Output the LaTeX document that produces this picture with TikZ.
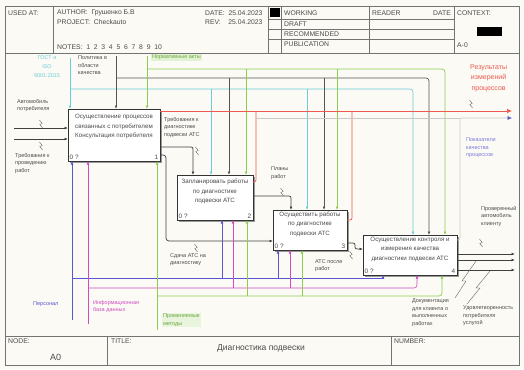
\documentclass[tikz,border=0pt]{standalone}
\usepackage{fontspec}
\setmainfont{Liberation Sans}
\usetikzlibrary{arrows.meta,shadows}
\definecolor{bg}{HTML}{FBFAF5}
\definecolor{cyc}{HTML}{6CCCD8}
\definecolor{dkc}{HTML}{555555}
\definecolor{gnc}{HTML}{8CCF50}
\definecolor{rdc}{HTML}{EE5A50}
\definecolor{blc}{HTML}{5A55D0}
\definecolor{mgc}{HTML}{D04CC0}
\definecolor{gyc}{HTML}{C9C9C9}
\definecolor{txc}{HTML}{4A4A4A}
\tikzset{
 frm/.style={draw=black!55, line width=0.6pt},
 pbox/.style={draw=black!80, line width=1pt, fill=white, inner sep=0pt, outer sep=0pt,
   drop shadow={shadow xshift=2pt, shadow yshift=-2pt, fill=black!40, opacity=1}},
 btxt/.style={font=\fontsize{6.2}{9.6}\selectfont, align=center, text=txc, inner sep=0pt},
 ntxt/.style={font=\fontsize{6.4}{7}\selectfont, text=txc, inner sep=1.5pt},
 lbl/.style={font=\fontsize{5.5}{7.4}\selectfont, align=left, text=txc, inner sep=0pt, anchor=north west},
 hdr/.style={font=\fontsize{6.8}{8}\selectfont, text=txc, inner sep=0pt, anchor=west},
 arr/.style={-{Latex[length=3.5pt,width=2.8pt]}},
 cyl/.style={draw=cyc, line width=0.6pt},
 dkl/.style={draw=dkc, line width=0.7pt},
 gnl/.style={draw=gnc, line width=0.7pt},
 rdl/.style={draw=rdc, line width=0.7pt},
 bll/.style={draw=blc, line width=0.6pt},
 mgl/.style={draw=mgc, line width=0.6pt},
 gyl/.style={draw=gyc, line width=0.6pt},
 bkl/.style={draw=black!75, line width=0.7pt},
 zig/.style={draw=black!60, line width=0.4pt},
 zg/.pic={\draw[zig] (-1.6,-4) -- (1.2,-0.6) -- (-1.2,0.6) -- (1.6,4);}
}
\begin{document}
\begin{tikzpicture}[x=1pt,y=-1pt]
\useasboundingbox (0,0) rectangle (524,369);
\fill[bg] (0,0) rectangle (524,369);

% ---------- frame ----------
\draw[frm] (5,6) rectangle (519,365);
\draw[frm] (5,53) -- (519,53);
\draw[frm] (53,6) -- (53,53);
\draw[frm] (268,6) -- (268,53);
\draw[frm] (281,6) -- (281,53);
\draw[frm] (369,6) -- (369,53);
\draw[frm] (454,6) -- (454,53);
\draw[frm] (268,19) -- (454,19);
\draw[frm] (268,29) -- (454,29);
\draw[frm] (268,39) -- (454,39);
\fill[black] (270,8) rectangle (280,17);
\fill[black] (477,27) rectangle (502,36);
\node[hdr] (hu) at (8,13) {USED AT:};
\node[hdr] (ha) at (57,13) {AUTHOR:\ \ Грушенко Б.В};
\node[hdr] (hp) at (57,22) {PROJECT:\ \ Checkauto};
\node[hdr] (hn) at (57,47) {NOTES:\ \ 1\ \ 2\ \ 3\ \ 4\ \ 5\ \ 6\ \ 7\ \ 8\ \ 9\ \ 10};
\node[hdr] (hd) at (205,13) {DATE:\ \ 25.04.2023};
\node[hdr] (hr) at (205,22) {REV:\ \ \ \ 25.04.2023};
\node[hdr] (hw) at (284,13) {WORKING};
\node[hdr] (hf) at (284,24) {DRAFT};
\node[hdr] (hc) at (284,34) {RECOMMENDED};
\node[hdr] (hb) at (284,44) {PUBLICATION};
\node[hdr] (hrd) at (372,13) {READER};
\node[hdr] (hdt) at (433,13) {DATE};
\node[hdr] (hcx) at (457,13) {CONTEXT:};
\node[hdr] (ha0) at (457,45) {A-0};

\draw[frm] (5,336) -- (519,336);
\draw[frm] (107,336) -- (107,365);
\draw[frm] (391,336) -- (391,365);
\node[hdr] (fn) at (8,341) {NODE:};
\node[hdr,font=\fontsize{9}{10}\selectfont] (fa) at (50,357) {A0};
\node[hdr] (ft) at (111,341) {TITLE:};
\node[font=\fontsize{8.5}{10}\selectfont, text=txc, inner sep=0pt] (fx) at (261,348) {Диагностика подвески};
\node[hdr] (fnb) at (394,341) {NUMBER:};

% ---------- boxes ----------
\node[pbox, minimum width=92pt, minimum height=52pt, anchor=north west] (b1) at (68,109) {};
\node[pbox, minimum width=76pt, minimum height=45pt, anchor=north west] (b2) at (177,175) {};
\node[pbox, minimum width=74pt, minimum height=40pt, anchor=north west] (b3) at (273,210) {};
\node[pbox, minimum width=94pt, minimum height=40pt, anchor=north west] (b4) at (363,235) {};

\node[btxt, anchor=north] (t1) at ([yshift=-5pt]b1.north) {Осуществление процессов\\связанных с потребителем\\Консультация потребителя};
\node[btxt, anchor=north] (t2) at ([yshift=-4pt]b2.north) {Запланировать работы\\по диагностике\\подвески АТС};
\node[btxt, anchor=north] (t3) at ([yshift=-1.5pt]b3.north) {Осуществить работы\\по диагностике\\подвески АТС};
\node[btxt, anchor=north] (t4) at ([yshift=-1.5pt]b4.north) {Осуществление контроля и\\измерения качества\\диагностики подвески АТС};
\foreach \b/\n in {b1/1,b2/2,b3/3,b4/4}{
  \node[ntxt, anchor=south west] (\b z) at (\b.south west) {0 ?};
  \node[ntxt, anchor=south east] (\b n) at (\b.south east) {\n};
}

% ---------- controls (top) ----------
\coordinate (cyS) at (70,58);
\coordinate (cyA) at (211,89); \coordinate (cyB) at (307,89); \coordinate (cyC) at (413,89);
\draw[cyl,arr] (cyS) -- (cyS |- b1.north);
\draw[cyl,arr,rounded corners=3] (cyS |- cyC) -- (cyC) -- (cyC |- b4.north);
\draw[cyl,arr] (cyA) -- (cyA |- b2.north);
\draw[cyl,arr] (cyB) -- (cyB |- b3.north);

\coordinate (dkS) at (116,56);
\coordinate (dkA) at (229,78); \coordinate (dkB) at (324,78); \coordinate (dkC) at (429,78);
\draw[dkl,arr] (dkS) -- (dkS |- b1.north);
\draw[dkl,arr,rounded corners=3] (dkS |- dkC) -- (dkC) -- (dkC |- b4.north);
\draw[dkl,arr] (dkA) -- (dkA |- b2.north);
\draw[dkl,arr] (dkB) -- (dkB |- b3.north);

\coordinate (gnS) at (147,56);
\coordinate (gnA) at (246,69); \coordinate (gnB) at (337,69); \coordinate (gnC) at (445,69);
\draw[gnl,arr] (gnS) -- (gnS |- b1.north);
\draw[gnl,arr,rounded corners=3] (gnS |- gnC) -- (gnC) -- (gnC |- b4.north);
\draw[gnl,arr] (gnA) -- (gnA |- b2.north);
\draw[gnl,arr] (gnB) -- (gnB |- b3.north);

% ---------- red / grey outputs to the right ----------
\coordinate (rdE) at (512,111);
\coordinate (rdA) at (256,182); \coordinate (rdB) at (352,220);
\draw[rdl,-{Latex[length=5pt,width=4.5pt]}] (b1.east |- rdE) -- (rdE);
\draw[rdl,rounded corners=2] (b2.east |- rdA) -- (rdA) -- (rdA |- rdE);
\draw[rdl,rounded corners=2] (b3.east |- rdB) -- (rdB) -- (rdB |- rdE);

\coordinate (gyE) at (512,118); \coordinate (gyC) at (460,118); \coordinate (gyS) at (256,118);
\draw[gyl] (gyS) -- (gyC);
\draw[gyl,-{Latex[length=4.5pt,width=4pt,color=blc]},rounded corners=2] ([yshift=-5pt]b4.north east) -| (gyC) -- (gyE);

% ---------- inputs ----------
\coordinate (in1) at (14,128); \coordinate (in2) at (14,139);
\draw[bkl,arr] (in1) -- (in1 -| b1.west);
\draw[bkl,arr] (in2) -- (in2 -| b1.west);

% box 1 -> box 2
\coordinate (o1) at (193,147);
\draw[bkl,arr,rounded corners=2] (b1.east |- o1) -- (o1) -- (o1 |- b2.north);
% box 1 -> box 3
\coordinate (o2) at (166,155); \coordinate (o2b) at (166,241);
\draw[bkl,arr,rounded corners=3] (b1.east |- o2) -- (o2) -- (o2b) -- (o2b -| b3.west);
% box 2 -> box 3
\coordinate (o3) at (291,196);
\draw[bkl,arr,rounded corners=2] (b2.east |- o3) -- (o3) -- (o3 |- b3.north);
% box 3 -> box 4
\coordinate (o4) at (355,243); \coordinate (o4b) at (355,249);
\draw[bkl,arr,rounded corners=2] (b3.east |- o4) -- (o4) -- (o4b) -- (o4b -| b4.west);
% box 4 outputs
\coordinate (e1) at (515,254); \coordinate (e2) at (515,260); \coordinate (e3) at (515,270);
\draw[bkl,arr] (b4.east |- e1) -- (e1);
\draw[bkl,arr] (b4.east |- e2) -- (e2);
\draw[bkl,arr] (b4.east |- e3) -- (e3);

% ---------- mechanisms (bottom) ----------
\coordinate (blS) at (72,320);
\coordinate (blA) at (222,278); \coordinate (blB) at (278,278); \coordinate (blC) at (383,278);
\draw[bll,arr] (blS) -- (blS |- b1.south);
\draw[bll,rounded corners=2] (blS |- blC) -- (blC);
\draw[bll,arr] (blA) -- (blA |- b2.south);
\draw[bll,arr] (blB) -- (blB |- b3.south);
\draw[bll,arr] (blC) -- (blC |- b4.south);

\coordinate (mgS) at (88,324);
\coordinate (mgA) at (233,288); \coordinate (mgB) at (290,288); \coordinate (mgC) at (417,288);
\draw[mgl,arr] (mgS) -- (mgS |- b1.south);
\draw[mgl,arr,rounded corners=3] (mgS |- mgC) -- (mgC) -- (mgC |- b4.south);
\draw[mgl,arr] (mgA) -- (mgA |- b2.south);
\draw[mgl,arr] (mgB) -- (mgB |- b3.south);

\coordinate (gmS) at (157,330);
\coordinate (gmA) at (247,296); \coordinate (gmB) at (302,296); \coordinate (gmC) at (442,296);
\draw[gnl,arr] (gmS) -- (gmS |- b1.south);
\draw[gnl,arr,rounded corners=3] (gmS |- gmC) -- (gmC) -- (gmC |- b4.south);
\draw[gnl,arr] (gmA) -- (gmA |- b2.south);
\draw[gnl,arr] (gmB) -- (gmB |- b3.south);

% ---------- labels ----------
\node[lbl, text=cyc, align=center, anchor=north, font=\fontsize{5.5}{9}\selectfont] (lgost) at (47,55) {ГОСТ и\\ISO\\9001:2015};
\node[lbl] (lpol) at (78,56) {Политика в\\области\\качества};
\node[lbl, text=gnc!80!black, fill=gnc!25, inner sep=0.8pt] (lnorm) at (151,54) {Нормативные акты};
\node[lbl, text=rdc, align=center, font=\fontsize{7}{10.5}\selectfont] (lres) at (470,64) {Результаты\\измерений\\процессов};
\node[lbl, text=blc!80] (lblu) at (466,138) {Показатели\\качества\\процессов};
\node[lbl] (lauto) at (17,99) {Автомобиль\\потребителя};
\node[lbl] (ltreb) at (15,153) {Требования к\\проведению\\работ};
\node[lbl] (ltd) at (164,117) {Требования к\\диагностике\\подвески АТС};
\node[lbl] (lsd) at (170,253) {Сдача АТС на\\диагностику};
\node[lbl] (lpl) at (271,167) {Планы\\работ};
\node[lbl] (latc) at (315,259) {АТС после\\работ};
\node[lbl] (lpr) at (481,206) {Проверенный\\автомобиль\\клиенту};
\node[lbl] (ldoc) at (412,299) {Документация\\для клиента о\\выполненных\\работах};
\node[lbl] (lud) at (463,306) {Удовлетворенность\\потребителя\\услугой};
\node[lbl, text=blc] (lpers) at (33,302) {Персонал};
\node[lbl, text=mgc] (linf) at (93,300) {Информационная\\база данных};
\node[lbl, text=gnc!80!black, fill=gnc!20, inner sep=0.8pt] (lmet) at (162,313) {Применяемые\\методы};

% ---------- squiggles ----------
\pic at (41,124) {zg};
\pic at (41,146) {zg};
\pic at (197,151) {zg};
\pic at (196,248) {zg};
\pic at (282,192) {zg};
\pic at (351,255) {zg};
\pic at (471,104) {zg};
\pic at (481,243) {zg};
\draw[zig] (455,298) -- (466,281) -- (462,281) -- (476,261);
\draw[zig] (467,304) -- (480,288) -- (476,288) -- (490,271);
\end{tikzpicture}
\end{document}
